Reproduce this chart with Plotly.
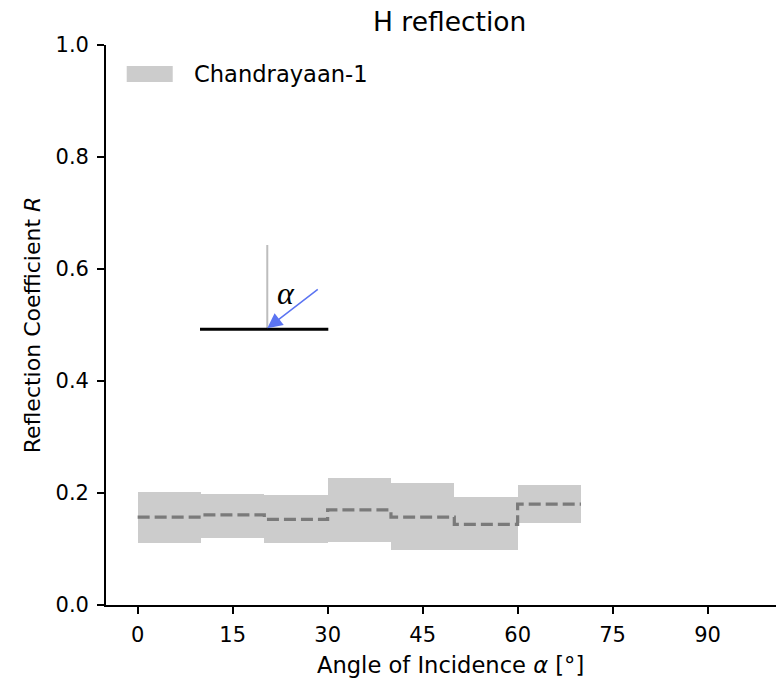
import plotly.graph_objects as go

# Angular bins (degrees) and reflection coefficient per bin
bin_edges = [0, 10, 20, 30, 40, 50, 60, 70]
r_mean = [0.157, 0.161, 0.153, 0.170, 0.157, 0.144, 0.180]
r_upper = [0.202, 0.199, 0.197, 0.227, 0.217, 0.193, 0.215]
r_lower = [0.110, 0.120, 0.110, 0.113, 0.099, 0.098, 0.147]
x_ticks = [0, 15, 30, 45, 60, 75, 90]
y_ticks = [0.0, 0.2, 0.4, 0.6, 0.8, 1.0]
series_name = "Chandrayaan-1"

centers = [(a + b) / 2 for a, b in zip(bin_edges[:-1], bin_edges[1:])]
widths = [b - a for a, b in zip(bin_edges[:-1], bin_edges[1:])]
heights = [u - l for u, l in zip(r_upper, r_lower)]

BAND = "#cccccc"
LINE = "#7a7a7a"
FONT = "DejaVu Sans"

fig = go.Figure()

# uncertainty band per bin
fig.add_trace(go.Bar(
    x=centers, y=heights, base=r_lower, width=widths,
    marker=dict(color=BAND, line=dict(width=0)),
    name=series_name, showlegend=False, hoverinfo="skip",
))

# stepped mean
fig.add_trace(go.Scatter(
    x=bin_edges, y=r_mean + [r_mean[-1]],
    mode="lines", line=dict(shape="hv", color=LINE, width=3.2, dash="12px,5px"),
    showlegend=False, hoverinfo="skip",
))

axis_common = dict(
    showgrid=False, zeroline=False, showline=True, linecolor="black", linewidth=1.7,
    ticks="outside", ticklen=7, tickwidth=1.7, tickcolor="black",
    tickfont=dict(family=FONT, size=21, color="black"),
)

fig.update_xaxes(range=[-5, 100.8], tickvals=x_ticks, ticktext=[str(v) for v in x_ticks],
                 ticklabelstandoff=3, **axis_common)
fig.update_yaxes(range=[0, 1], tickvals=y_ticks, ticktext=[f"{v:.1f}" for v in y_ticks],
                 ticklabelstandoff=4,
                 title=dict(text="Reflection Coefficient <i>R</i>",
                            font=dict(family=FONT, size=22, color="black"), standoff=9),
                 **axis_common)

shapes = []
annotations = []

# legend entry
shapes.append(dict(type="rect", xref="paper", yref="paper",
                   x0=0.0309, x1=0.0996, y0=0.9339, y1=0.9625,
                   fillcolor=BAND, line=dict(width=0)))
annotations.append(dict(text=series_name, xref="paper", yref="paper",
                        x=0.1279, y=0.9482, xanchor="left", yanchor="middle",
                        showarrow=False, font=dict(family=FONT, size=22.6, color="black")))

# incidence-angle sketch: surface, normal and incoming ray
shapes.append(dict(type="line", xref="paper", yref="paper",
                   x0=0.2407, x1=0.2407, y0=0.4923, y1=0.6429,
                   line=dict(color="#bdbdbd", width=2)))
shapes.append(dict(type="line", xref="paper", yref="paper",
                   x0=0.1403, x1=0.3318, y0=0.4923, y1=0.4923,
                   line=dict(color="black", width=3)))
annotations.append(dict(text="", xref="paper", yref="paper",
                        x=0.2407, y=0.4941, ax=52, ay=-40,
                        showarrow=True, arrowhead=2, arrowsize=2, arrowwidth=1.5,
                        arrowcolor="#5b74f2", standoff=0))
annotations.append(dict(text="<i>α</i>", xref="paper", yref="paper",
                        x=0.2687, y=0.557, xanchor="center", yanchor="middle",
                        showarrow=False,
                        font=dict(family="Liberation Serif", size=32, color="black")))

# title and x-axis label, centred on the full axes span
annotations.append(dict(text="H reflection", xref="paper", yref="paper",
                        x=0.5134, y=1.0411, xanchor="center", yanchor="middle",
                        showarrow=False, font=dict(family=FONT, size=26.5, color="black")))
annotations.append(dict(text="Angle of Incidence <i>α</i> [°]", xref="paper", yref="paper",
                        x=0.5149, y=-0.1073, xanchor="center", yanchor="middle",
                        showarrow=False, font=dict(family=FONT, size=22.6, color="black")))

fig.update_layout(
    width=776, height=679,
    margin=dict(l=106, r=0, t=45, b=74, pad=0),
    paper_bgcolor="white", plot_bgcolor="white",
    bargap=0, showlegend=False,
    shapes=shapes, annotations=annotations,
    font=dict(family=FONT, color="black"),
)

fig.write_html("out.html")
